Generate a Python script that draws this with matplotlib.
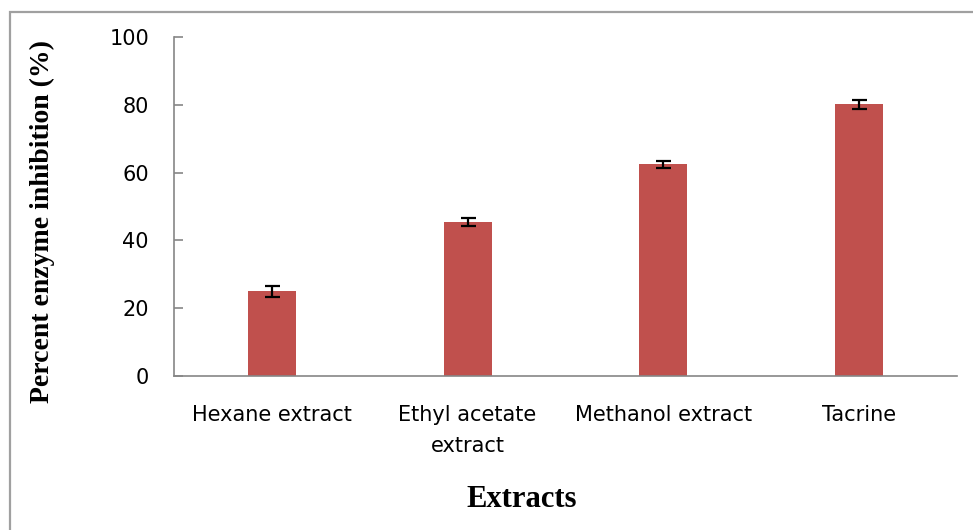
import matplotlib
matplotlib.use("Agg")
import matplotlib.pyplot as plt
from matplotlib.patches import Rectangle

categories = ["Hexane extract", "Ethyl acetate\nextract", "Methanol extract", "Tacrine"]
inhibition = [25.0, 45.5, 62.4, 80.1]
errors = [1.6, 1.2, 1.1, 1.2]
y_ticks = [0, 20, 40, 60, 80, 100]

fig = plt.figure(figsize=(9.73, 5.30), dpi=100)
ax = fig.add_axes([0.1788, 0.2906, 0.8047, 0.6396])

x = list(range(len(categories)))
ax.bar(x, inhibition, width=0.245, color="#C0504D", edgecolor="none",
       yerr=errors, capsize=5.4,
       error_kw=dict(ecolor="black", elinewidth=1.6, capthick=1.6))

ax.set_xlim(-0.5, len(categories) - 0.5)
ax.set_ylim(0, 100)
ax.set_yticks(y_ticks)
ax.set_yticklabels([str(v) for v in y_ticks], fontsize=15, family="DejaVu Sans")
ax.set_xticks(x)
ax.set_xticklabels(categories, fontsize=15, family="DejaVu Sans", linespacing=1.65)
ax.tick_params(axis="y", direction="in", length=6.5, width=1.2, color="#868686", pad=18)
ax.tick_params(axis="x", length=0, pad=21)

for side in ("top", "right"):
    ax.spines[side].set_visible(False)
for side in ("left", "bottom"):
    ax.spines[side].set_color("#868686")
    ax.spines[side].set_linewidth(1.2)

fig.text(0.0432, 0.583, "Percent enzyme inhibition (%)", rotation=90,
         ha="center", va="center", fontsize=20, fontweight="bold",
         family="Liberation Serif")
fig.text(0.536, 0.057, "Extracts", ha="center", va="center",
         fontsize=22, fontweight="bold", family="Liberation Serif")

# chart area border, open to the right and bottom
frame = Rectangle((10 / 973, -0.2), 1.2, 1 - 12 / 530 + 0.2,
                  transform=fig.transFigure, fill=False,
                  edgecolor="#A0A0A0", linewidth=1.6, clip_on=False)
fig.patches.append(frame)

fig.savefig("out.png", dpi=100)
